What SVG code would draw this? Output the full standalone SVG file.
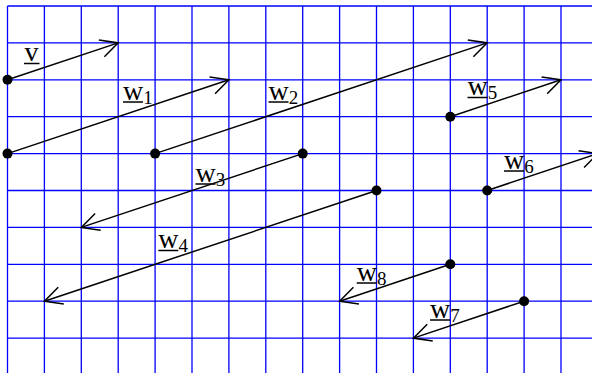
<svg xmlns="http://www.w3.org/2000/svg" width="592" height="373" viewBox="0 0 592 373">
<style>
.grid{stroke:#0000ff;stroke-width:1.3;fill:none}
.vec{stroke:#000;stroke-width:1.5;fill:none;marker-end:url(#ah)}
.dot{fill:#000}
.lbl{font-family:"Liberation Serif","Times New Roman",serif;font-size:28px;fill:#000}
.sub{font-size:19px}
.ul{stroke:#000;stroke-width:1.5}
</style>
<defs>
<marker id="ah" markerUnits="userSpaceOnUse" orient="auto" markerWidth="40" markerHeight="40" viewBox="-20 -20 40 40" refX="0" refY="0" overflow="visible">
<path d="M-17.5,-8.8 L0,0 L-17.5,8.8" fill="none" stroke="#000" stroke-width="1.5"/>
</marker>
</defs>
<rect width="592" height="373" fill="#fff"/>
<g id="grid" class="grid">
<path d="M7.5,6V373M44.4,6V373M81.3,6V373M118.2,6V373M155.1,6V373M192,6V373M228.9,6V373M265.8,6V373M302.7,6V373M339.6,6V373M376.5,6V373M413.4,6V373M450.3,6V373M487.2,6V373M524.1,6V373M561,6V373"/>
<path d="M7.5,6H592M7.5,42.9H592M7.5,79.8H592M7.5,116.7H592M7.5,153.6H592M7.5,190.5H592M7.5,227.4H592M7.5,264.3H592M7.5,301.2H592M7.5,338.1H592"/>
</g>
<g id="connectors">
<line class="vec" x1="7.5" y1="79.8" x2="118.2" y2="42.9"/>
<line class="vec" x1="7.5" y1="153.6" x2="228.9" y2="79.8"/>
<line class="vec" x1="155.1" y1="153.6" x2="487.2" y2="42.9"/>
<line class="vec" x1="302.7" y1="153.6" x2="81.3" y2="227.4"/>
<line class="vec" x1="376.5" y1="190.5" x2="44.4" y2="301.2"/>
<line class="vec" x1="450.3" y1="116.7" x2="561" y2="79.8"/>
<line class="vec" x1="487.2" y1="190.5" x2="597.9" y2="153.6"/>
<line class="vec" x1="524.1" y1="301.2" x2="413.4" y2="338.1"/>
<line class="vec" x1="450.3" y1="264.3" x2="339.6" y2="301.2"/>
</g>
<g id="v">
<circle class="dot" cx="7.5" cy="79.8" r="5"/>
<text class="lbl" x="24.5" y="61">v</text>
<line class="ul" x1="24" y1="63.5" x2="39.5" y2="63.5"/>
</g>
<g id="w1">
<circle class="dot" cx="7.5" cy="153.6" r="5"/>
<text class="lbl" x="123" y="99.5">w<tspan class="sub" dy="4">1</tspan></text>
<line class="ul" x1="123" y1="102" x2="143" y2="102"/>
</g>
<g id="w2">
<circle class="dot" cx="155.1" cy="153.6" r="5"/>
<text class="lbl" x="268.5" y="99.5">w<tspan class="sub" dy="4">2</tspan></text>
<line class="ul" x1="268.5" y1="102" x2="288.5" y2="102"/>
</g>
<g id="w3">
<circle class="dot" cx="302.7" cy="153.6" r="5"/>
<text class="lbl" x="195.5" y="181.5">w<tspan class="sub" dy="4">3</tspan></text>
<line class="ul" x1="195.5" y1="184" x2="215.5" y2="184"/>
</g>
<g id="w4">
<circle class="dot" cx="376.5" cy="190.5" r="5"/>
<text class="lbl" x="158.3" y="248">w<tspan class="sub" dy="4">4</tspan></text>
<line class="ul" x1="158.3" y1="250.5" x2="178.3" y2="250.5"/>
</g>
<g id="w5">
<circle class="dot" cx="450.3" cy="116.7" r="5"/>
<text class="lbl" x="467.5" y="95">w<tspan class="sub" dy="4">5</tspan></text>
<line class="ul" x1="467.5" y1="97.5" x2="487.5" y2="97.5"/>
</g>
<g id="w6">
<circle class="dot" cx="487.2" cy="190.5" r="5"/>
<text class="lbl" x="504" y="168.5">w<tspan class="sub" dy="4">6</tspan></text>
<line class="ul" x1="504" y1="171" x2="524" y2="171"/>
</g>
<g id="w7">
<circle class="dot" cx="524.1" cy="301.2" r="5"/>
<text class="lbl" x="430" y="317.5">w<tspan class="sub" dy="4">7</tspan></text>
<line class="ul" x1="430" y1="320" x2="450" y2="320"/>
</g>
<g id="w8">
<circle class="dot" cx="450.3" cy="264.3" r="5"/>
<text class="lbl" x="356.7" y="280.5">w<tspan class="sub" dy="4">8</tspan></text>
<line class="ul" x1="356.7" y1="283" x2="376.7" y2="283"/>
</g>
</svg>
